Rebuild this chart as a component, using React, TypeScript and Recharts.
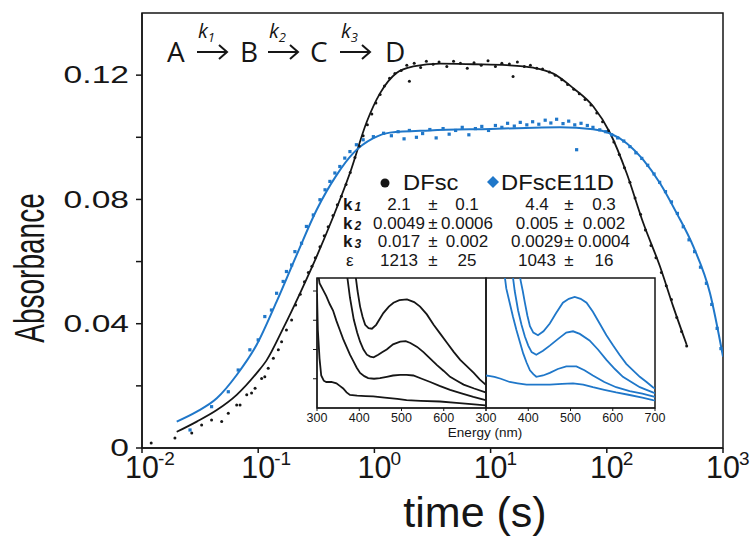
import { ComposedChart, LineChart, Line, Scatter, XAxis, YAxis, ReferenceArea } from 'recharts';

const INK = '#161616';
const BLUE = '#1f77c9';

// fitted curves, time (s) vs absorbance
const fitDFsc = [
  { t: 0.0199, a: 0.0052 }, { t: 0.0296, a: 0.0085 }, { t: 0.044, a: 0.0122 }, { t: 0.0653, a: 0.0171 },
  { t: 0.097, a: 0.0241 }, { t: 0.118, a: 0.0282 }, { t: 0.164, a: 0.0385 }, { t: 0.229, a: 0.0498 },
  { t: 0.318, a: 0.0616 }, { t: 0.443, a: 0.0745 }, { t: 0.616, a: 0.0885 }, { t: 0.86, a: 0.105 },
  { t: 1.12, a: 0.1142 }, { t: 1.55, a: 0.1207 }, { t: 2.16, a: 0.1228 }, { t: 3.67, a: 0.1237 },
  { t: 7.1, a: 0.1235 }, { t: 13.8, a: 0.1232 }, { t: 23.3, a: 0.1224 }, { t: 34.7, a: 0.1205 },
  { t: 51.5, a: 0.1158 }, { t: 76.6, a: 0.1099 }, { t: 107, a: 0.1013 }, { t: 148, a: 0.0885 },
  { t: 206, a: 0.0724 }, { t: 287, a: 0.0584 }, { t: 373, a: 0.0455 }, { t: 487, a: 0.0332 },
];

const fitE11D = [
  { t: 0.0199, a: 0.0085 }, { t: 0.0296, a: 0.0117 }, { t: 0.044, a: 0.016 }, { t: 0.0653, a: 0.0235 },
  { t: 0.097, a: 0.0332 }, { t: 0.144, a: 0.0471 }, { t: 0.214, a: 0.0621 }, { t: 0.318, a: 0.0766 },
  { t: 0.474, a: 0.0879 }, { t: 0.658, a: 0.0949 }, { t: 0.98, a: 0.0997 }, { t: 1.36, a: 0.1015 },
  { t: 3, a: 0.1022 }, { t: 10, a: 0.1027 }, { t: 20, a: 0.103 }, { t: 39.5, a: 0.1032 },
  { t: 76, a: 0.1026 }, { t: 106, a: 0.1013 }, { t: 148, a: 0.0981 }, { t: 206, a: 0.0927 },
  { t: 287, a: 0.0852 }, { t: 399, a: 0.0756 }, { t: 556, a: 0.0648 }, { t: 773, a: 0.0498 },
  { t: 1000, a: 0.0294 },
];

// measured points
const dataDFsc = [
  { t: 0.012, a: 0.0016 }, { t: 0.0192, a: 0.0032 }, { t: 0.0268, a: 0.0048 }, { t: 0.0326, a: 0.0074 },
  { t: 0.0397, a: 0.009 }, { t: 0.0485, a: 0.0085 }, { t: 0.0553, a: 0.0112 }, { t: 0.0653, a: 0.0138 },
  { t: 0.0698, a: 0.0138 }, { t: 0.0797, a: 0.0171 }, { t: 0.0877, a: 0.0177 }, { t: 0.094, a: 0.0192 },
  { t: 0.107, a: 0.0224 }, { t: 0.114, a: 0.0229 }, { t: 0.122, a: 0.0257 }, { t: 0.135, a: 0.0289 },
  { t: 0.149, a: 0.0316 }, { t: 0.159, a: 0.0342 }, { t: 0.175, a: 0.038 }, { t: 0.194, a: 0.0412 },
  { t: 0.21, a: 0.046 }, { t: 0.23, a: 0.0495 }, { t: 0.25, a: 0.0535 }, { t: 0.27, a: 0.0565 },
  { t: 0.29, a: 0.0585 }, { t: 0.31, a: 0.0612 }, { t: 0.34, a: 0.0648 }, { t: 0.37, a: 0.0683 },
  { t: 0.4, a: 0.0712 }, { t: 0.44, a: 0.0748 }, { t: 0.48, a: 0.0783 }, { t: 0.52, a: 0.081 },
  { t: 0.57, a: 0.0848 }, { t: 0.62, a: 0.0887 }, { t: 0.68, a: 0.0935 }, { t: 0.74, a: 0.0972 },
  { t: 0.8, a: 0.1005 }, { t: 0.87, a: 0.104 }, { t: 0.95, a: 0.1075 }, { t: 1.03, a: 0.111 },
  { t: 1.12, a: 0.1138 }, { t: 1.22, a: 0.1165 }, { t: 1.35, a: 0.119 }, { t: 1.5, a: 0.1205 },
  { t: 1.7, a: 0.1215 }, { t: 1.9, a: 0.1232 }, { t: 2.0, a: 0.118 }, { t: 2.2, a: 0.1238 },
  { t: 2.5, a: 0.1225 }, { t: 2.8, a: 0.1245 }, { t: 3.2, a: 0.1235 }, { t: 3.6, a: 0.1242 },
  { t: 4.2, a: 0.1228 }, { t: 4.8, a: 0.1245 }, { t: 5.5, a: 0.1238 }, { t: 6.3, a: 0.1222 },
  { t: 7.2, a: 0.124 }, { t: 8.3, a: 0.1232 }, { t: 9.5, a: 0.1246 }, { t: 11, a: 0.1228 },
  { t: 12.5, a: 0.1238 }, { t: 14.5, a: 0.1236 }, { t: 15.6, a: 0.1196 }, { t: 17, a: 0.1242 },
  { t: 19.5, a: 0.1228 }, { t: 22, a: 0.1232 }, { t: 25, a: 0.1222 }, { t: 28, a: 0.122 },
  { t: 32, a: 0.121 }, { t: 36, a: 0.12 }, { t: 41, a: 0.1185 }, { t: 46, a: 0.117 },
  { t: 52, a: 0.1155 }, { t: 58, a: 0.114 }, { t: 65, a: 0.1122 }, { t: 73, a: 0.1104 },
  { t: 82, a: 0.1078 }, { t: 92, a: 0.105 }, { t: 103, a: 0.1022 }, { t: 115, a: 0.0985 },
  { t: 128, a: 0.0945 }, { t: 142, a: 0.0902 }, { t: 158, a: 0.0855 }, { t: 175, a: 0.0805 },
  { t: 195, a: 0.0752 }, { t: 215, a: 0.0702 }, { t: 240, a: 0.0652 }, { t: 265, a: 0.0612 },
  { t: 295, a: 0.0565 }, { t: 325, a: 0.0522 }, { t: 360, a: 0.0478 }, { t: 400, a: 0.042 },
  { t: 440, a: 0.0375 }, { t: 487, a: 0.0328 },
];

const dataE11D = [
  { t: 0.0259, a: 0.0058 }, { t: 0.0397, a: 0.0133 }, { t: 0.0553, a: 0.0181 }, { t: 0.0673, a: 0.0251 },
  { t: 0.0848, a: 0.0316 }, { t: 0.1, a: 0.0348 }, { t: 0.114, a: 0.0423 }, { t: 0.13, a: 0.0444 },
  { t: 0.144, a: 0.0498 }, { t: 0.164, a: 0.0536 }, { t: 0.175, a: 0.0568 }, { t: 0.194, a: 0.0589 },
  { t: 0.207, a: 0.0632 }, { t: 0.236, a: 0.0659 }, { t: 0.26, a: 0.0713 }, { t: 0.298, a: 0.075 },
  { t: 0.34, a: 0.0799 }, { t: 0.376, a: 0.0831 }, { t: 0.414, a: 0.0858 }, { t: 0.457, a: 0.0885 },
  { t: 0.504, a: 0.0906 }, { t: 0.556, a: 0.0933 }, { t: 0.616, a: 0.0954 }, { t: 0.7, a: 0.0976 },
  { t: 0.8, a: 0.0992 }, { t: 0.98, a: 0.1002 }, { t: 1.2, a: 0.1013 }, { t: 1.4, a: 0.1005 },
  { t: 1.6, a: 0.1018 }, { t: 1.8, a: 0.0995 }, { t: 2.0, a: 0.1022 }, { t: 2.3, a: 0.1 },
  { t: 2.6, a: 0.1012 }, { t: 3.0, a: 0.1025 }, { t: 3.4, a: 0.0998 }, { t: 3.9, a: 0.1028 },
  { t: 4.4, a: 0.101 }, { t: 5.0, a: 0.1022 }, { t: 5.7, a: 0.1032 }, { t: 6.5, a: 0.1008 },
  { t: 7.4, a: 0.1028 }, { t: 8.4, a: 0.1035 }, { t: 9.6, a: 0.1022 }, { t: 11, a: 0.1038 },
  { t: 12.5, a: 0.1032 }, { t: 14, a: 0.1045 }, { t: 16, a: 0.1036 }, { t: 18, a: 0.1048 },
  { t: 20.5, a: 0.104 }, { t: 23, a: 0.105 }, { t: 26, a: 0.1042 }, { t: 29.5, a: 0.1055 },
  { t: 33, a: 0.1046 }, { t: 37, a: 0.1058 }, { t: 42, a: 0.1044 }, { t: 47, a: 0.1052 },
  { t: 53, a: 0.104 }, { t: 55, a: 0.096 }, { t: 60, a: 0.1045 }, { t: 68, a: 0.1038 },
  { t: 76, a: 0.1032 }, { t: 87, a: 0.1024 }, { t: 98, a: 0.1018 }, { t: 110, a: 0.1008 },
  { t: 124, a: 0.0998 }, { t: 140, a: 0.0988 }, { t: 158, a: 0.097 }, { t: 178, a: 0.095 },
  { t: 200, a: 0.0932 }, { t: 225, a: 0.091 }, { t: 255, a: 0.0882 }, { t: 285, a: 0.0855 },
  { t: 320, a: 0.0825 }, { t: 360, a: 0.0792 }, { t: 405, a: 0.0755 }, { t: 455, a: 0.0712 },
  { t: 510, a: 0.067 }, { t: 570, a: 0.0632 }, { t: 640, a: 0.0582 }, { t: 720, a: 0.053 },
  { t: 800, a: 0.0462 }, { t: 890, a: 0.0385 }, { t: 960, a: 0.032 },
];

const xTicks = [0.01, 0.1, 1, 10, 100, 1000];
const xTickExp = ['-2', '-1', '0', '1', '2', '3'];
const yTicks = [0, 0.02, 0.04, 0.06, 0.08, 0.1, 0.12];
const yTickLabels: Record<string, string> = { '0': '0', '0.04': '0.04', '0.08': '0.08', '0.12': '0.12' };

// fitted parameters table
const tableRows = ['k1', 'k2', 'k3', 'ε'];
const dfscVals = ['2.1', '0.0049', '0.017', '1213'];
const dfscErrs = ['0.1', '0.0006', '0.002', '25'];
const e11dVals = ['4.4', '0.005', '0.0029', '1043'];
const e11dErrs = ['0.3', '0.002', '0.0004', '16'];

// inset spectra, wavelength (nm) vs relative absorbance
const specBlack1 = [
  { w: 386, v: 1.2 }, { w: 390, v: 1.05 }, { w: 396, v: 0.9 }, { w: 402, v: 0.78 }, { w: 408, v: 0.7 },
  { w: 414, v: 0.64 }, { w: 422, v: 0.615 }, { w: 430, v: 0.61 }, { w: 440, v: 0.64 }, { w: 457, v: 0.73 },
  { w: 470, v: 0.78 }, { w: 481, v: 0.81 }, { w: 495, v: 0.83 }, { w: 513, v: 0.835 }, { w: 530, v: 0.815 },
  { w: 544, v: 0.78 }, { w: 560, v: 0.72 }, { w: 576, v: 0.64 }, { w: 592, v: 0.57 }, { w: 608, v: 0.5 },
  { w: 624, v: 0.43 }, { w: 639, v: 0.37 }, { w: 655, v: 0.32 }, { w: 671, v: 0.27 }, { w: 685, v: 0.22 },
  { w: 699, v: 0.18 },
];
const specBlack2 = [
  { w: 368, v: 1.1 }, { w: 378, v: 0.85 }, { w: 387, v: 0.68 }, { w: 395, v: 0.58 }, { w: 402, v: 0.51 },
  { w: 410, v: 0.45 }, { w: 418, v: 0.41 }, { w: 426, v: 0.395 }, { w: 434, v: 0.39 }, { w: 445, v: 0.41 },
  { w: 455, v: 0.43 }, { w: 465, v: 0.45 }, { w: 480, v: 0.49 }, { w: 497, v: 0.51 }, { w: 510, v: 0.515 },
  { w: 521, v: 0.5 }, { w: 537, v: 0.47 }, { w: 552, v: 0.43 }, { w: 568, v: 0.38 }, { w: 584, v: 0.33 },
  { w: 600, v: 0.285 }, { w: 615, v: 0.24 }, { w: 631, v: 0.21 }, { w: 647, v: 0.18 }, { w: 672, v: 0.15 },
  { w: 699, v: 0.12 },
];
const specBlack3 = [
  { w: 302, v: 1.05 }, { w: 306, v: 0.96 }, { w: 314, v: 0.91 }, { w: 322, v: 0.86 }, { w: 330, v: 0.8 },
  { w: 338, v: 0.75 }, { w: 346, v: 0.67 }, { w: 354, v: 0.6 }, { w: 362, v: 0.53 }, { w: 370, v: 0.47 },
  { w: 378, v: 0.41 }, { w: 386, v: 0.36 }, { w: 394, v: 0.31 }, { w: 402, v: 0.27 }, { w: 412, v: 0.245 },
  { w: 421, v: 0.23 }, { w: 435, v: 0.225 }, { w: 449, v: 0.23 }, { w: 465, v: 0.24 }, { w: 480, v: 0.25 },
  { w: 497, v: 0.255 }, { w: 512, v: 0.255 }, { w: 528, v: 0.25 }, { w: 548, v: 0.225 }, { w: 568, v: 0.2 },
  { w: 590, v: 0.17 }, { w: 615, v: 0.14 }, { w: 640, v: 0.115 }, { w: 670, v: 0.085 }, { w: 699, v: 0.06 },
];
const specBlack4 = [
  { w: 300, v: 0.88 }, { w: 302, v: 0.6 }, { w: 306, v: 0.38 }, { w: 310, v: 0.25 }, { w: 316, v: 0.21 },
  { w: 322, v: 0.2 }, { w: 334, v: 0.2 }, { w: 346, v: 0.19 }, { w: 354, v: 0.17 }, { w: 362, v: 0.15 },
  { w: 370, v: 0.12 }, { w: 378, v: 0.1 }, { w: 395, v: 0.095 }, { w: 415, v: 0.092 }, { w: 433, v: 0.09 },
  { w: 460, v: 0.08 }, { w: 490, v: 0.07 }, { w: 512, v: 0.06 }, { w: 545, v: 0.055 }, { w: 591, v: 0.05 },
  { w: 630, v: 0.04 }, { w: 665, v: 0.03 }, { w: 699, v: 0.02 },
];
const specBlue1 = [
  { w: 376, v: 1.1 }, { w: 382, v: 0.98 }, { w: 387, v: 0.9 }, { w: 392, v: 0.81 }, { w: 398, v: 0.71 },
  { w: 404, v: 0.63 }, { w: 412, v: 0.58 }, { w: 423, v: 0.56 }, { w: 436, v: 0.59 }, { w: 451, v: 0.65 },
  { w: 466, v: 0.73 }, { w: 482, v: 0.81 }, { w: 496, v: 0.84 }, { w: 510, v: 0.855 }, { w: 524, v: 0.84 },
  { w: 538, v: 0.81 }, { w: 553, v: 0.74 }, { w: 569, v: 0.65 }, { w: 585, v: 0.56 }, { w: 601, v: 0.48 },
  { w: 616, v: 0.41 }, { w: 632, v: 0.34 }, { w: 648, v: 0.29 }, { w: 664, v: 0.24 }, { w: 680, v: 0.2 },
  { w: 695, v: 0.16 }, { w: 700, v: 0.15 },
];
const specBlue2 = [
  { w: 360, v: 1.1 }, { w: 368, v: 0.9 }, { w: 376, v: 0.75 }, { w: 384, v: 0.64 }, { w: 392, v: 0.55 },
  { w: 400, v: 0.48 }, { w: 408, v: 0.43 }, { w: 419, v: 0.41 }, { w: 435, v: 0.44 }, { w: 451, v: 0.48 },
  { w: 470, v: 0.53 }, { w: 490, v: 0.58 }, { w: 506, v: 0.59 }, { w: 522, v: 0.57 }, { w: 545, v: 0.52 },
  { w: 565, v: 0.45 }, { w: 585, v: 0.37 }, { w: 605, v: 0.3 }, { w: 624, v: 0.24 }, { w: 644, v: 0.2 },
  { w: 664, v: 0.16 }, { w: 680, v: 0.14 }, { w: 695, v: 0.12 }, { w: 700, v: 0.115 },
];
const specBlue3 = [
  { w: 341, v: 1.1 }, { w: 348, v: 0.92 }, { w: 356, v: 0.81 }, { w: 364, v: 0.7 }, { w: 372, v: 0.6 },
  { w: 380, v: 0.51 }, { w: 388, v: 0.42 }, { w: 396, v: 0.35 }, { w: 404, v: 0.29 }, { w: 412, v: 0.26 },
  { w: 419, v: 0.24 }, { w: 435, v: 0.25 }, { w: 451, v: 0.27 }, { w: 470, v: 0.3 }, { w: 490, v: 0.32 },
  { w: 514, v: 0.32 }, { w: 533, v: 0.29 }, { w: 553, v: 0.25 }, { w: 580, v: 0.2 }, { w: 608, v: 0.16 },
  { w: 640, v: 0.13 }, { w: 670, v: 0.11 }, { w: 695, v: 0.09 }, { w: 700, v: 0.085 },
];
const specBlue4 = [
  { w: 300, v: 0.25 }, { w: 310, v: 0.245 }, { w: 320, v: 0.24 }, { w: 335, v: 0.225 }, { w: 356, v: 0.2 },
  { w: 375, v: 0.19 }, { w: 396, v: 0.18 }, { w: 420, v: 0.18 }, { w: 451, v: 0.18 }, { w: 480, v: 0.185 },
  { w: 506, v: 0.19 }, { w: 530, v: 0.18 }, { w: 553, v: 0.16 }, { w: 580, v: 0.14 }, { w: 608, v: 0.12 },
  { w: 640, v: 0.1 }, { w: 670, v: 0.08 }, { w: 695, v: 0.06 }, { w: 700, v: 0.058 },
];

const insetTicks = [300, 400, 500, 600, 700];
const insetYTicks = [0.225, 0.45, 0.675, 0.9];

const SANS = 'Liberation Sans, Arial, sans-serif';

const YTick = (props: any) => {
  const label = yTickLabels[String(props.payload.value)];
  if (!label) return <g />;
  return (
    <text transform={`translate(${props.x},${props.y}) scale(1.4,1)`} textAnchor="end" dominantBaseline="central"
      fontFamily={SANS} fontSize={24} fill={INK}>{label}</text>
  );
};

const XTick = (props: any) => {
  const i = xTicks.indexOf(props.payload.value);
  return (
    <g>
      <text transform={`translate(${props.x},478) scale(0.95,1)`} textAnchor="middle" fontFamily={SANS} fontSize={32} fill={INK}>10</text>
      <text x={props.x + 16} y={465} fontFamily={SANS} fontSize={19} fill={INK}>{xTickExp[i]}</text>
    </g>
  );
};

const blackDot = (p: any) => <circle cx={p.cx} cy={p.cy} r={1.5} fill={INK} />;
const blueDot = (p: any) => <rect x={p.cx - 1.6} y={p.cy - 1.6} width={3.2} height={3.2} fill={BLUE} />;

const InsetTick = (showLast: boolean) => (props: any) => {
  const v = props.payload.value;
  if (!showLast && v === 700) return <g />;
  return (
    <text x={props.x} y={props.y + 9} textAnchor="middle" fontFamily={SANS} fontSize={12.5} fill={INK}>{v}</text>
  );
};

// inset panels: plot area is 169 x 130 px, placed so its left edge lands at plotLeft
function Inset({ series, color, plotLeft, withY }: { series: { w: number; v: number }[][]; color: string; plotLeft: number; withY: boolean }) {
  const padL = 14;
  const axisW = withY ? 10 : 0;
  return (
    <div style={{ position: 'absolute', left: plotLeft - padL - axisW, top: 276 }}>
      <LineChart width={padL + axisW + 169 + 16} height={162} margin={{ top: 2, right: 16, bottom: 0, left: padL }}>
        <XAxis type="number" dataKey="w" domain={[300, 700]} ticks={insetTicks} interval={0} height={30} allowDataOverflow
          stroke={INK} tickSize={3} tick={InsetTick(!withY)} />
        <YAxis type="number" domain={[0, 1]} ticks={insetYTicks} width={10} allowDataOverflow hide={!withY}
          stroke={INK} tickSize={4} tick={() => <g />} />
        {series.map((d, i) => (
          <Line key={i} data={d} dataKey="v" stroke={color} strokeWidth={1.8} dot={false} activeDot={false} isAnimationActive={false} />
        ))}
        <ReferenceArea x1={300} x2={700} y1={0} y2={1} fill="none" stroke={INK} strokeWidth={1.5} />
      </LineChart>
    </div>
  );
}

function Scheme() {
  const species = [{ s: 'A', x: 167 }, { s: 'B', x: 240 }, { s: 'C', x: 310 }, { s: 'D', x: 385 }];
  const arrows = [{ x: 197, k: '1' }, { x: 268, k: '2' }, { x: 340, k: '3' }];
  return (
    <g>
      {species.map((e) => (
        <text key={e.s} x={e.x} y={62} fontFamily="Open Sans, sans-serif" fontSize={28} fill={INK}>{e.s}</text>
      ))}
      {arrows.map((a) => (
        <g key={a.k}>
          <path d={`M${a.x} 52 H${a.x + 30} M${a.x + 22} 45 L${a.x + 30} 52 L${a.x + 22} 59`} stroke={INK} strokeWidth={2} fill="none" />
          <text x={a.x + 1} y={38} fontFamily="Open Sans, sans-serif" fontStyle="italic" fontSize={20} fill={INK}>
            k<tspan fontSize={13} dy={4}>{a.k}</tspan>
          </text>
        </g>
      ))}
    </g>
  );
}

function ParamTable() {
  const rowY = [210, 228.5, 247, 266];
  const cell = (x: number, y: number, s: string) => (
    <text x={x} y={y} textAnchor="middle" fontFamily={SANS} fontSize={17} fill={INK}>{s}</text>
  );
  return (
    <g>
      <circle cx={385} cy={183} r={4.5} fill={INK} />
      <text transform="translate(403,190) scale(1.08,1)" fontFamily={SANS} fontSize={22} fill={INK}>DFsc</text>
      <path d="M493 176 L499 182 L493 188 L487 182 Z" fill={BLUE} />
      <text transform="translate(501,190) scale(1.08,1)" fontFamily={SANS} fontSize={22} fill={INK}>DFscE11D</text>
      {tableRows.map((r, i) => (
        <g key={r}>
          {r === 'ε'
            ? <text x={346} y={rowY[i]} fontFamily={SANS} fontSize={17} fill={INK}>ε</text>
            : <text x={343} y={rowY[i]} fontFamily={SANS} fontWeight="bold" fontSize={17} fill={INK}>
                k<tspan fontSize={12} fontStyle="italic" dx={2} dy={1}>{r.slice(1)}</tspan>
              </text>}
          {cell(399, rowY[i], dfscVals[i])}
          {cell(433, rowY[i], '±')}
          {cell(467, rowY[i], dfscErrs[i])}
          {cell(537, rowY[i], e11dVals[i])}
          {cell(569, rowY[i], '±')}
          {cell(604, rowY[i], e11dErrs[i])}
        </g>
      ))}
    </g>
  );
}

export default function App() {
  return (
    <div style={{ position: 'absolute', left: 0, top: 0, width: 755, height: 540, background: '#fff' }}>
      <ComposedChart width={755} height={540} margin={{ top: 13, right: 32, bottom: 0, left: 0 }}>
        <XAxis type="number" dataKey="t" scale="log" domain={[0.01, 1000]} ticks={xTicks} interval={0} allowDataOverflow
          height={92} stroke={INK} strokeWidth={1.5} tickSize={5} tick={XTick} />
        <YAxis type="number" dataKey="a" domain={[0, 0.14]} ticks={yTicks} interval={0} allowDataOverflow
          width={142} stroke={INK} strokeWidth={1.5} tickSize={6} tickMargin={7} tick={YTick} />
        <ReferenceArea x1={0.01} x2={1000} y1={0} y2={0.14} fill="none" stroke={INK} strokeWidth={1.5} />
        <Scatter data={dataDFsc} dataKey="a" shape={blackDot} isAnimationActive={false} />
        <Scatter data={dataE11D} dataKey="a" shape={blueDot} isAnimationActive={false} />
        <Line data={fitDFsc} dataKey="a" type="monotone" stroke={INK} strokeWidth={1.8} dot={false} activeDot={false} isAnimationActive={false} />
        <Line data={fitE11D} dataKey="a" type="monotone" stroke={BLUE} strokeWidth={2} dot={false} activeDot={false} isAnimationActive={false} />
      </ComposedChart>
      <Inset series={[specBlack1, specBlack2, specBlack3, specBlack4]} color={INK} plotLeft={317} withY />
      <Inset series={[specBlue1, specBlue2, specBlue3, specBlue4]} color={BLUE} plotLeft={486} withY={false} />
      <svg width={755} height={540} style={{ position: 'absolute', left: 0, top: 0, pointerEvents: 'none' }}>
        <Scheme />
        <ParamTable />
        <text transform="translate(30,268) scale(1.5,1) rotate(-90)" textAnchor="middle" dominantBaseline="central"
          fontFamily={SANS} fontSize={28} fill={INK}>Absorbance</text>
        <text x={475} y={527} textAnchor="middle" fontFamily={SANS} fontSize={43} fill={INK}>time (s)</text>
        <text x={485} y={437} textAnchor="middle" fontFamily={SANS} fontSize={13.5} fill={INK}>Energy (nm)</text>
      </svg>
    </div>
  );
}
